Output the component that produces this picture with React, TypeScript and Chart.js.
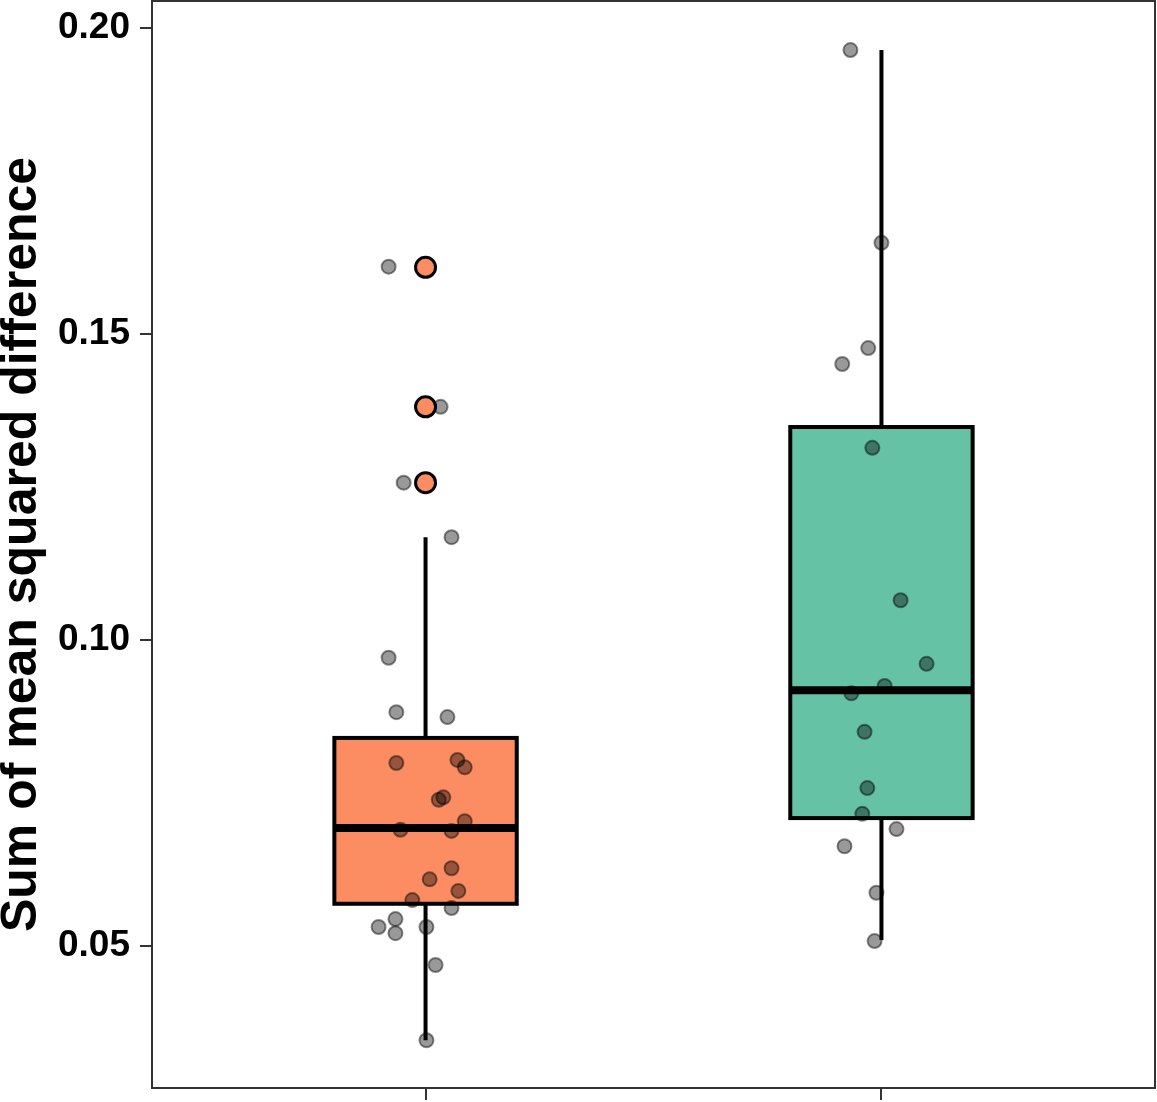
import React, { useEffect, useRef } from "react";
import { Chart, registerables } from "chart.js";
Chart.register(...registerables);

// Groups (x positions on a continuous axis; no category labels shown)
const groups = [1, 2];
const boxFills = ["#FC8D62", "#66C2A5"];
const q1 = [0.0569, 0.0709];
const medians = [0.0693, 0.0918];
const q3 = [0.084, 0.1348];
const whiskerLow = [0.0346, 0.051];
const whiskerHigh = [0.1168, 0.1964];

// Outliers (group 1)
const outlierX = [1, 1, 1];
const outlierY = [0.1609, 0.1381, 0.1257];

// Jittered observations
const jitterX1 = [
  0.919, 1.033, 0.952, 1.057, 0.919, 0.936, 1.048, 0.936, 1.07, 1.086, 1.029, 1.039, 0.945,
  1.057, 1.086, 1.057, 1.009, 1.072, 0.971, 1.057, 0.934, 0.897, 0.934, 1.002, 1.022, 1.002,
];
const jitterY1 = [
  0.161, 0.1381, 0.1257, 0.1168, 0.0971, 0.0882, 0.0874, 0.0799, 0.0804, 0.0792, 0.0739, 0.0743,
  0.069, 0.0688, 0.0704, 0.0627, 0.0609, 0.059, 0.0575, 0.0562, 0.0544, 0.0531, 0.0521, 0.0531,
  0.0469, 0.0346,
];
const jitterX2 = [
  1.932, 2.0, 1.971, 1.914, 1.98, 2.042, 2.099, 2.007, 1.934, 1.963, 1.969, 1.958, 2.033, 1.919,
  1.989, 1.985,
];
const jitterY2 = [
  0.1964, 0.1649, 0.1477, 0.1451, 0.1314, 0.1065, 0.0961, 0.0925, 0.0913, 0.085, 0.0758, 0.0716,
  0.0691, 0.0663, 0.0587, 0.0508,
];

const yTicks = [0.05, 0.1, 0.15, 0.2];
const xTicks = [1, 2];
const yTitle = "Sum of mean squared difference";

const boxPlugin = {
  id: "boxes",
  beforeDatasetsDraw(chart: any) {
    const ctx = chart.ctx;
    const xs = chart.scales.x;
    const ys = chart.scales.y;
    groups.forEach((g, i) => {
      const cx = xs.getPixelForValue(g);
      const left = xs.getPixelForValue(g - 0.2);
      const right = xs.getPixelForValue(g + 0.2);
      const yq1 = ys.getPixelForValue(q1[i]);
      const yq3 = ys.getPixelForValue(q3[i]);
      const ym = ys.getPixelForValue(medians[i]);
      const ylo = ys.getPixelForValue(whiskerLow[i]);
      const yhi = ys.getPixelForValue(whiskerHigh[i]);
      ctx.save();
      ctx.strokeStyle = "#000";
      ctx.lineWidth = 4;
      ctx.beginPath();
      ctx.moveTo(cx, ylo);
      ctx.lineTo(cx, yq1);
      ctx.moveTo(cx, yq3);
      ctx.lineTo(cx, yhi);
      ctx.stroke();
      ctx.fillStyle = boxFills[i];
      ctx.fillRect(left, yq3, right - left, yq1 - yq3);
      ctx.strokeRect(left, yq3, right - left, yq1 - yq3);
      ctx.lineWidth = 8;
      ctx.beginPath();
      ctx.moveTo(left, ym);
      ctx.lineTo(right, ym);
      ctx.stroke();
      ctx.restore();
    });
  },
  afterDraw(chart: any) {
    const { ctx, chartArea } = chart;
    ctx.save();
    ctx.strokeStyle = "#333";
    ctx.lineWidth = 2;
    ctx.strokeRect(chartArea.left, chartArea.top, chartArea.right - chartArea.left, chartArea.bottom - chartArea.top);
    ctx.restore();
  },
};

export default function App() {
  const ref = useRef<HTMLCanvasElement | null>(null);
  useEffect(() => {
    if (!ref.current) return;
    const jitter = [
      ...jitterX1.map((x, i) => ({ x, y: jitterY1[i] })),
      ...jitterX2.map((x, i) => ({ x, y: jitterY2[i] })),
    ];
    const outliers = outlierX.map((x, i) => ({ x, y: outlierY[i] }));
    const chart = new Chart(ref.current, {
      type: "scatter",
      data: {
        datasets: [
          {
            data: outliers,
            order: 0,
            pointRadius: 10,
            pointBackgroundColor: boxFills[0],
            pointBorderColor: "#000",
            pointBorderWidth: 3,
          },
          {
            data: jitter,
            order: 1,
            pointRadius: 7,
            pointBackgroundColor: "rgba(0,0,0,0.4)",
            pointBorderColor: "rgba(0,0,0,0.45)",
            pointBorderWidth: 2,
          },
        ],
      },
      options: {
        animation: false,
        responsive: false,
        events: [],
        layout: { autoPadding: false, padding: { top: 1, right: 2, left: 0, bottom: 0 } },
        plugins: { legend: { display: false }, tooltip: { enabled: false } },
        scales: {
          x: {
            type: "linear",
            min: 0.4,
            max: 2.6,
            border: { display: false },
            grid: { display: true, drawOnChartArea: false, drawTicks: true, tickLength: 12, color: "#333", lineWidth: 2 },
            ticks: { display: false },
            afterBuildTicks: (s: any) => {
              s.ticks = xTicks.map((v) => ({ value: v }));
            },
            afterFit: (s: any) => {
              s.height = 14;
              s.paddingLeft = 0;
              s.paddingRight = 0;
              s.paddingTop = 0;
              s.paddingBottom = 0;
            },
          },
          y: {
            type: "linear",
            min: 0.026797,
            max: 0.204412,
            border: { display: false },
            grid: { display: true, drawOnChartArea: false, drawTicks: true, tickLength: 12, color: "#333", lineWidth: 2 },
            ticks: {
              autoSkip: false,
              padding: 10,
              color: "#000",
              font: { family: "'Liberation Sans', Arial, sans-serif", weight: "bold", size: 37 },
              callback: (v: any) => Number(v).toFixed(2),
            },
            afterBuildTicks: (s: any) => {
              s.ticks = yTicks.map((v) => ({ value: v }));
            },
            title: {
              display: true,
              text: yTitle,
              color: "#000",
              padding: 0,
              font: { family: "'Liberation Sans', Arial, sans-serif", weight: "bold", size: 50, lineHeight: 0.9 },
            },
            afterFit: (s: any) => {
              s.width = 152;
              s.paddingLeft = 0;
              s.paddingRight = 0;
              s.paddingTop = 0;
              s.paddingBottom = 0;
            },
          },
        },
      },
      plugins: [boxPlugin],
    });
    return () => chart.destroy();
  }, []);
  return (
    <div style={{ position: "absolute", left: 0, top: 0, width: 1157, height: 1102, background: "#fff" }}>
      <canvas ref={ref} width={1157} height={1102} />
    </div>
  );
}
